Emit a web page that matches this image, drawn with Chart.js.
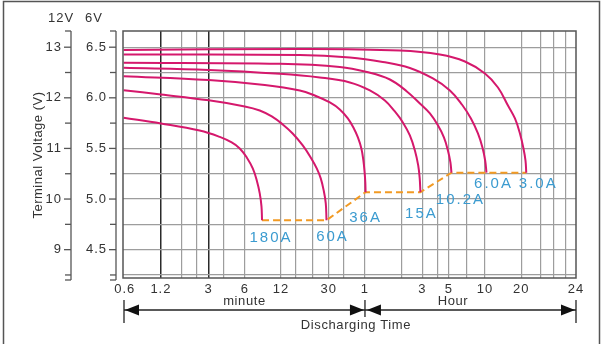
<!DOCTYPE html>
<html><head><meta charset="utf-8">
<script src="https://cdn.jsdelivr.net/npm/chart.js@4/dist/chart.umd.min.js"></script>
<style>html,body{margin:0;padding:0;background:#fff}</style>
</head><body>
<canvas id="c" width="606" height="344"></canvas>
<script>
// ---------- DATA (time in minutes, voltage on the 6V scale) ----------
const seriesNames = ['180A', '60A', '36A', '15A', '10.2A', '6.0A', '3.0A'];

const t180 = [0.587, 1.2, 2.52, 3.71, 4.66, 5.44, 6.22, 6.98, 7.54, 7.98, 8.25, 8.34];
const v180 = [5.803, 5.747, 5.677, 5.614, 5.559, 5.500, 5.411, 5.303, 5.184, 5.056, 4.928, 4.790];

const t60 = [0.587, 1.2, 3, 5.99, 7.98, 10.05, 12.4, 15.0, 18.2, 21.2, 23.8, 25.7, 27.2, 28.3, 28.7];
const v60 = [6.075, 6.033, 5.975, 5.915, 5.875, 5.816, 5.737, 5.648, 5.530, 5.411, 5.303, 5.204, 5.085, 4.957, 4.790];

const t36 = [0.587, 3, 8.79, 17.2, 22.9, 30.6, 37.05, 43.2, 48.5, 52.4, 56.0, 58.2, 59.6, 60.4, 60.7];
const v36 = [6.214, 6.176, 6.127, 6.073, 6.023, 5.954, 5.885, 5.796, 5.697, 5.609, 5.500, 5.381, 5.263, 5.164, 5.068];

const t15 = [0.587, 3, 11.72, 25.2, 44.9, 65.9, 87.9, 106.4, 124.1, 141.9, 156.3, 166.5, 171.4, 173.7];
const v15 = [6.297, 6.275, 6.237, 6.201, 6.152, 6.073, 5.974, 5.865, 5.757, 5.628, 5.480, 5.332, 5.204, 5.068];

const t10 = [0.587, 11.72, 37.05, 62.2, 96.7, 134.0, 172.0, 208.4, 242.9, 272.6, 294.3, 308.8, 314.8];
const v10 = [6.346, 6.336, 6.305, 6.255, 6.181, 6.063, 5.944, 5.846, 5.728, 5.609, 5.480, 5.362, 5.260];

const t6 = [0.587, 17.2, 44.9, 84.5, 141.9, 220.7, 305.8, 384.9, 457.6, 523.3, 570.6, 601.0, 616.3];
const v6 = [6.428, 6.423, 6.398, 6.354, 6.295, 6.191, 6.073, 5.934, 5.796, 5.648, 5.510, 5.381, 5.260];

const t3 = [0.587, 17.2, 117.2, 252.4, 407.8, 598.6, 768.3, 930.6, 1064, 1171, 1253, 1302, 1322];
const v3 = [6.472, 6.482, 6.467, 6.428, 6.359, 6.240, 6.102, 5.924, 5.796, 5.648, 5.500, 5.381, 5.260];

// end-of-discharge line
const tEnd = [8.34, 28.7, 60.7, 173.7, 314.8, 1322];
const vEnd = [4.79, 4.79, 5.068, 5.068, 5.26, 5.26];

// axes
const X_MIN = 0.58, X_MAX = 3430;
const xTickValues = [0.6, 1.2, 3, 6, 12, 30, 60, 180, 300, 600, 1200, X_MAX];
const xTickLabels = ['0.6', '1.2', '3', '6', '12', '30', '1', '3', '5', '10', '20', '24'];
const xGridMinutes = [1.2, 1.8, 2.4, 3, 4, 6, 12, 16, 22, 30, 40, 60, 120, 180, 240, 300, 420, 600, 1200, 1730, 2250, 2810];
const xDarkGrid = [1.2, 3];
const Y_MIN = 4.22, Y_MAX = 6.66;
const yGridVolts = [4.25, 4.5, 4.75, 5.0, 5.25, 5.5, 5.75, 6.0, 6.25, 6.5];
const yTicks6 = [4.5, 5.0, 5.5, 6.0, 6.5];
const yLabels6 = ['4.5', '5.0', '5.5', '6.0', '6.5'];
const yLabels12 = ['9', '10', '11', '12', '13'];
const yMinor6 = [4.25, 4.75, 5.25, 5.75, 6.25];

// ---------- STYLE ----------
const FONT = "'Liberation Sans', Arial, Helvetica, sans-serif";
const CURVE = '#d5186c';
const ORANGE = '#f29a23';
const BLUE = '#3b9bd0';
const INK = '#333';
const labelOffsets = [[8, 18], [5, 17], [-1, 26], [0, 22], [8, 27], [6, 11], [11, 11]];

const times = [t180, t60, t36, t15, t10, t6, t3];
const volts = [v180, v60, v36, v15, v10, v6, v3];
const pts = (t, v) => t.map((x, i) => ({ x, y: v[i] }));

const allXTicks = Array.from(new Set([...xTickValues, ...xGridMinutes])).sort((a, b) => a - b);

function line(ctx, x1, y1, x2, y2) { ctx.beginPath(); ctx.moveTo(x1, y1); ctx.lineTo(x2, y2); ctx.stroke(); }
function head(ctx, x, y, dir) {
  ctx.beginPath(); ctx.moveTo(x, y); ctx.lineTo(x - dir * 14, y - 5.5); ctx.lineTo(x - dir * 14, y + 5.5); ctx.closePath(); ctx.fill();
}

const deco = {
  id: 'deco',
  beforeDraw(chart) { chart.ctx.letterSpacing = '1px'; },
  beforeDatasetsDraw(chart) { chart.ctx.letterSpacing = '0px'; },
  afterDraw(chart) {
    const ctx = chart.ctx, ca = chart.chartArea, xs = chart.scales.x, ys = chart.scales.y;
    ctx.save();
    // outer frame
    ctx.strokeStyle = '#555'; ctx.lineWidth = 1.5;
    ctx.beginPath(); ctx.moveTo(3.5, 344); ctx.lineTo(3.5, 1.5); ctx.lineTo(599.5, 1.5); ctx.lineTo(599.5, 344); ctx.stroke();
    // plot border
    ctx.strokeStyle = '#555'; ctx.lineWidth = 1.5;
    ctx.strokeRect(ca.left, ca.top, ca.right - ca.left, ca.bottom - ca.top);

    // left voltage scales
    ctx.strokeStyle = '#555'; ctx.lineWidth = 1.3;
    const scales = [{ lx: 71, labels: yLabels12, tx: 62 }, { lx: 116, labels: yLabels6, tx: 107 }];
    ctx.font = '13px ' + FONT; ctx.fillStyle = INK; ctx.textAlign = 'right'; ctx.textBaseline = 'middle';
    ctx.letterSpacing = '1px';
    for (const s of scales) {
      line(ctx, s.lx, ca.top, s.lx, ca.bottom + 2);
      line(ctx, s.lx - 6, ca.top, s.lx, ca.top);
      line(ctx, s.lx - 6, ca.bottom + 2, s.lx, ca.bottom + 2);
      yTicks6.forEach((v, i) => {
        const y = ys.getPixelForValue(v);
        line(ctx, s.lx - 7, y, s.lx, y);
        ctx.fillText(s.labels[i], s.tx, y);
      });
      yMinor6.forEach(v => { const y = ys.getPixelForValue(v); line(ctx, s.lx - 6, y, s.lx, y); });
    }
    ctx.textAlign = 'center';
    ctx.fillText('12V', 61, 18);
    ctx.fillText('6V', 94, 18);

    // y title
    ctx.save();
    ctx.translate(38, 155); ctx.rotate(-Math.PI / 2);
    ctx.letterSpacing = '0.5px';
    ctx.font = '13px ' + FONT; ctx.fillStyle = INK; ctx.textAlign = 'center'; ctx.textBaseline = 'middle';
    ctx.fillText('Terminal Voltage (V)', 0, 0);
    ctx.restore();

    // curve labels
    ctx.font = '15px ' + FONT; ctx.fillStyle = BLUE; ctx.textAlign = 'center'; ctx.textBaseline = 'middle';
    ctx.letterSpacing = '2px';
    seriesNames.forEach((name, i) => {
      const t = times[i], v = volts[i];
      const x = xs.getPixelForValue(t[t.length - 1]), y = ys.getPixelForValue(v[v.length - 1]);
      ctx.fillText(name, x + labelOffsets[i][0] + 1, y + labelOffsets[i][1]);
    });

    // bottom time arrows
    const xl = xs.getPixelForValue(X_MIN) + 1, xm = xs.getPixelForValue(60), xr = xs.getPixelForValue(X_MAX);
    const ay = 310;
    ctx.strokeStyle = '#222'; ctx.fillStyle = '#111'; ctx.lineWidth = 1.3;
    line(ctx, xl, 300, xl, 323); line(ctx, xm, 300, xm, 317); line(ctx, xr, 300, xr, 323);
    line(ctx, xl, ay, xm, ay); line(ctx, xm, ay, xr, ay);
    head(ctx, xl + 1, ay, -1); head(ctx, xm - 1, ay, 1); head(ctx, xm + 2, ay, -1); head(ctx, xr - 1, ay, 1);
    ctx.font = '13px ' + FONT; ctx.fillStyle = INK; ctx.textAlign = 'center'; ctx.textBaseline = 'middle';
    ctx.letterSpacing = '0.6px';
    ctx.fillText('minute', (xl + xm) / 2, 301);
    ctx.fillText('Hour', xm + 88, 301);
    ctx.fillText('Discharging Time', xm - 9, 325);
    ctx.restore();
  }
};

const datasets = seriesNames.map((n, i) => ({
  label: n, data: pts(times[i], volts[i]), borderColor: CURVE, borderWidth: 2,
  pointRadius: 0, cubicInterpolationMode: 'default', tension: 0.4, fill: false
}));
datasets.push({
  label: 'end', data: pts(tEnd, vEnd), borderColor: ORANGE, borderWidth: 2,
  borderDash: [7, 4], pointRadius: 0, tension: 0, fill: false
});

new Chart(document.getElementById('c'), {
  type: 'line',
  data: { datasets },
  options: {
    responsive: false, animation: false, events: [],
    layout: { padding: { top: 31, right: 30, left: 0, bottom: 0 } },
    plugins: { legend: { display: false }, tooltip: { enabled: false } },
    scales: {
      x: {
        type: 'logarithmic', min: X_MIN, max: X_MAX,
        afterFit(s) { s.height = 66; },
        afterBuildTicks(s) { s.ticks = allXTicks.map(v => ({ value: v })); },
        ticks: {
          autoSkip: false, maxRotation: 0, minRotation: 0, padding: 4,
          font: { size: 13, family: FONT }, color: INK,
          callback(v) { const i = xTickValues.indexOf(v); return i >= 0 ? xTickLabels[i] : ''; }
        },
        grid: {
          drawTicks: false,
          color(c) {
            const v = c.tick ? c.tick.value : null;
            if (xDarkGrid.includes(v)) return '#2a2a2a';
            if (xGridMinutes.includes(v)) return '#9d9d9d';
            return 'rgba(0,0,0,0)';
          },
          lineWidth(c) { const v = c.tick ? c.tick.value : null; return xDarkGrid.includes(v) ? 1.5 : 1.2; }
        },
        border: { display: false }
      },
      y: {
        type: 'linear', min: Y_MIN, max: Y_MAX,
        afterFit(s) { s.width = 123; },
        afterBuildTicks(s) { s.ticks = yGridVolts.map(v => ({ value: v })); },
        ticks: { display: false },
        grid: { drawTicks: false, color: '#9d9d9d', lineWidth: 1.2 },
        border: { display: false }
      }
    }
  },
  plugins: [deco]
});
</script>
</body></html>
